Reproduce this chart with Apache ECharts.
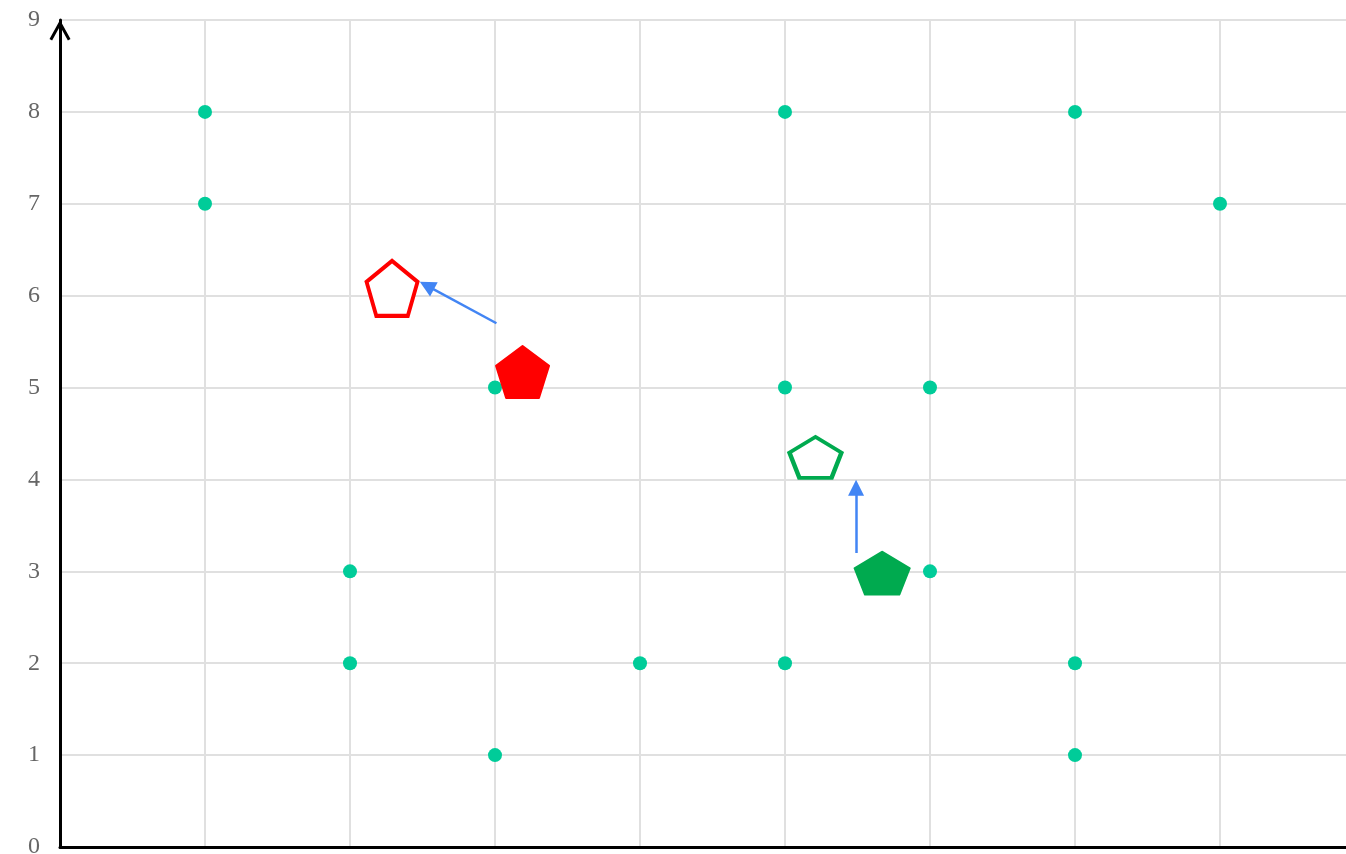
<!DOCTYPE html>
<html>
<head>
<meta charset="utf-8">
<script src="https://cdn.jsdelivr.net/npm/echarts@6/dist/echarts.min.js"></script>
<style>
html,body{margin:0;padding:0;overflow:hidden;background:#fff;}
#chart{width:1385px;height:900px;}
</style>
</head>
<body>
<div id="chart"></div>
<script>
// Data
const dotX = [1, 1, 3, 5, 5, 6, 7, 8, 2, 2, 3, 4, 5, 6, 7, 7];
const dotY = [8, 7, 5, 8, 5, 5, 8, 7, 3, 2, 1, 2, 2, 3, 2, 1];

const redFilled = [3.19, 5.17];
const redOutline = [2.29, 6.08];
const greenFilled = [5.67, 2.98];
const greenOutline = [5.21, 4.24];

// arrow: [start, arrowhead centre]
const redArrow = [[3.01, 5.70], [2.53, 6.11]];
const greenArrow = [[5.49, 3.20], [5.49, 3.91]];

const yTicks = [0, 1, 2, 3, 4, 5, 6, 7, 8, 9];

const pentagon = 'path://M0,-1 L0.951,-0.309 L0.588,0.809 L-0.588,0.809 L-0.951,-0.309 Z';
const chevron = 'path://M0,19 L10.5,0 L21,19 L18.4,20.4 L10.5,6.2 L2.6,20.4 Z';

const dots = dotX.map((x, i) => [x, dotY[i]]);

const chart = echarts.init(document.getElementById('chart'), null, {renderer: 'canvas'});
chart.setOption({
  animation: false,
  grid: {left: 60, top: 20, right: 20, height: 827, containLabel: false},
  xAxis: {
    type: 'value', min: 0, max: 9, interval: 1,
    axisLine: {show: true, lineStyle: {color: '#000', width: 3}},
    axisTick: {show: false},
    axisLabel: {show: true, fontFamily: 'Liberation Serif', fontSize: 24, color: '#666', margin: 14},
    splitLine: {show: true, lineStyle: {color: '#e0e0e0', width: 2}}
  },
  yAxis: {
    type: 'value', min: 0, max: 9, interval: 1,
    axisLine: {show: true, lineStyle: {color: '#000', width: 3},
      symbol: ['none', chevron], symbolSize: [21, 20.4], symbolOffset: [0, -10.2]},
    axisTick: {show: false},
    axisLabel: {show: true, fontFamily: 'Liberation Serif', fontSize: 24, color: '#666', margin: 20,
      formatter: v => yTicks.includes(v) ? String(v) : ''},
    splitLine: {show: true, lineStyle: {color: '#e0e0e0', width: 2}}
  },
  series: [
    {
      type: 'scatter', data: dots, symbol: 'circle', symbolSize: 14,
      itemStyle: {color: '#00cc99', opacity: 1}, z: 2
    },
    {
      type: 'lines', coordinateSystem: 'cartesian2d',
      symbol: ['none', 'triangle'], symbolSize: [15, 16],
      lineStyle: {color: '#4285f4', width: 2.5, opacity: 1},
      data: [{coords: redArrow}, {coords: greenArrow}], z: 3
    },
    {
      type: 'scatter', symbol: pentagon,
      data: [
        {value: redFilled, symbolSize: [53, 52], itemStyle: {color: '#ff0000', borderColor: '#ff0000', borderWidth: 2, borderJoin: 'round'}},
        {value: redOutline, symbolSize: [51, 55], itemStyle: {color: '#ffffff', borderColor: '#ff0000', borderWidth: 4}},
        {value: greenFilled, symbolSize: [55, 43], itemStyle: {color: '#00aa4f', borderColor: '#00aa4f', borderWidth: 2, borderJoin: 'round'}},
        {value: greenOutline, symbolSize: [52, 41], itemStyle: {color: '#ffffff', borderColor: '#00aa4f', borderWidth: 4}}
      ],
      itemStyle: {opacity: 1}, z: 4
    }
  ]
});
</script>
</body>
</html>
